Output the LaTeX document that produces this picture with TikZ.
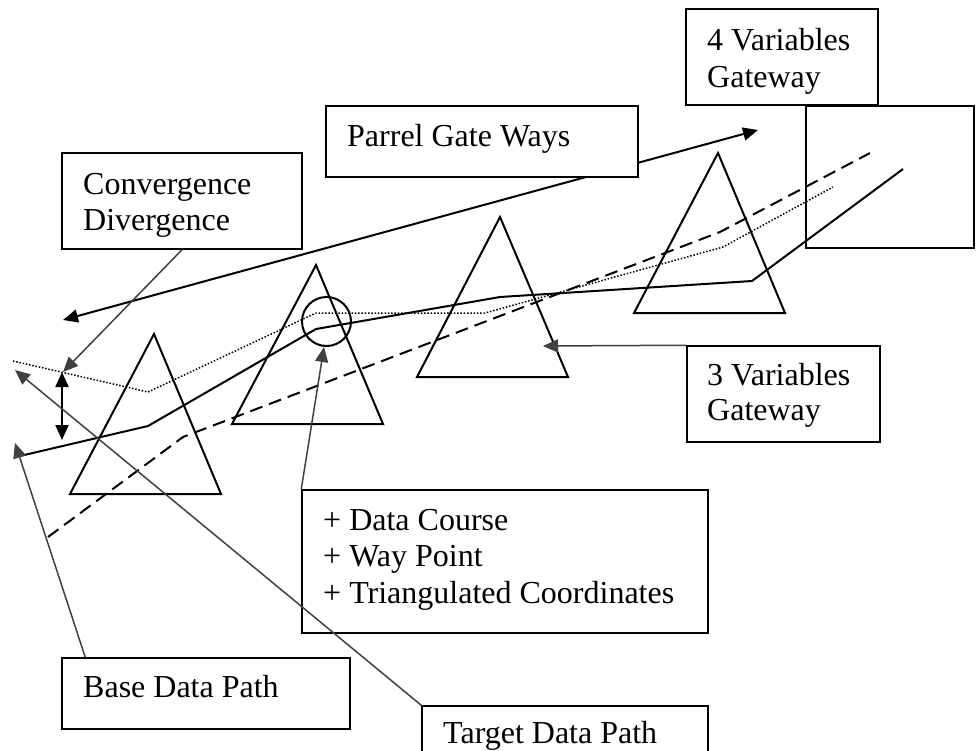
\documentclass[tikz,border=0pt]{standalone}
\usepackage{fontspec}
\setmainfont{Liberation Serif}
\usetikzlibrary{arrows.meta}
\definecolor{cgray}{RGB}{64,64,64}
\begin{document}
\begin{tikzpicture}[x=1pt,y=-1pt,
  box/.style={draw=black, line width=1.5pt, rectangle, inner sep=0pt},
  lbl/.style={anchor=base west, inner sep=0pt, font=\fontsize{32}{37}\selectfont},
  tri/.style={draw=black, line width=2pt, line join=miter},
  solidpath/.style={draw=black, line width=2pt},
  dotpath/.style={draw=black, line width=1.5pt, dash pattern=on 1.5pt off 1.8pt},
  dashpath/.style={draw=black, line width=2pt, dash pattern=on 13pt off 7pt},
  blackarrow/.style={draw=black, line width=2pt, {Triangle[length=15pt,width=13pt]}-{Triangle[length=15pt,width=13pt]}},
  grayarrow/.style={draw=cgray, line width=1.5pt, -{Triangle[length=15pt,width=13pt]}}]
\useasboundingbox (0,0) rectangle (979,750);
\clip (0,0) rectangle (979,750);

% triangles
\draw[tri] (70,494) -- (221,494) -- (154,334) -- cycle;
\draw[tri] (232,424) -- (383,424) -- (316,265) -- cycle;
\draw[tri] (417,377) -- (568,377) -- (500,217) -- cycle;
\draw[tri] (634,313) -- (785,313) -- (718,153) -- cycle;

% data paths
\draw[solidpath] (20,456) -- (148,426) -- (316,329) -- (500,297) -- (752,281) -- (903,169);
\draw[dotpath] (13,361) -- (148,392) -- (316,313) -- (485,313) -- (723,247) -- (833,187);
\draw[dashpath] (48,537) -- (183,437) -- (720,232) -- (870,153);

% way point circle
\draw[line width=2pt] (326.5,321.5) circle[radius=24.5pt];

% free ends of connectors
\coordinate (pgL) at (63,320);
\coordinate (pgR) at (758,130);
\coordinate (cdT) at (62,372);
\coordinate (cdB) at (62,440);
\coordinate (convTip) at (63,372);
\coordinate (targetTip) at (15,370);
\coordinate (baseTip) at (15,443);
\coordinate (dataTip) at (324,347);
\coordinate (threeTip) at (543,346);

% parrel gate ways arrow (under its box)
\draw[blackarrow] (pgL) -- (pgR);
\draw[blackarrow] (cdT) -- (cdB);

% boxes
\node[box, minimum width=192pt, minimum height=96pt] (four) at (782,57) {};
\node[box, minimum width=168pt, minimum height=142pt] (gw4) at (890,177) {};
\node[box, fill=white, minimum width=312pt, minimum height=71pt] (pgw) at (482,141.5) {};
\node[box, minimum width=240pt, minimum height=96pt] (conv) at (182,201) {};
\node[box, minimum width=193pt, minimum height=96pt] (three) at (783.5,394) {};
\node[box, minimum width=406pt, minimum height=143pt] (data) at (505,561.5) {};
\node[box, minimum width=288pt, minimum height=71pt] (base) at (206,693.5) {};
\node[box, minimum width=286pt, minimum height=94pt] (target) at (565,753) {};

% labels
\node[lbl] (t4a) at (707,50) {4 Variables};
\node[lbl] (t4b) at (707,87) {Gateway};
\node[lbl] (tpg) at (347,146) {Parrel Gate Ways};
\node[lbl] (tca) at (83,194) {Convergence};
\node[lbl] (tcb) at (83,230) {Divergence};
\node[lbl] (t3a) at (707,385) {3 Variables};
\node[lbl] (t3b) at (707,420) {Gateway};
\node[lbl] (tda) at (323,530) {+ Data Course};
\node[lbl] (tdb) at (323,566) {+ Way Point};
\node[lbl] (tdc) at (323,603) {+ Triangulated Coordinates};
\node[lbl] (tba) at (83,697) {Base Data Path};
\node[lbl] (tta) at (443,743) {Target Data Path};

% gray connectors
\draw[grayarrow] (conv.south) -- (convTip);
\draw[grayarrow] (target.north west) -- (targetTip);
\draw[grayarrow] ([xshift=24pt]base.north west) -- (baseTip);
\draw[grayarrow] (data.north west) -- (dataTip);
\draw[grayarrow] (three.north west) -- (threeTip);
\end{tikzpicture}
\end{document}
